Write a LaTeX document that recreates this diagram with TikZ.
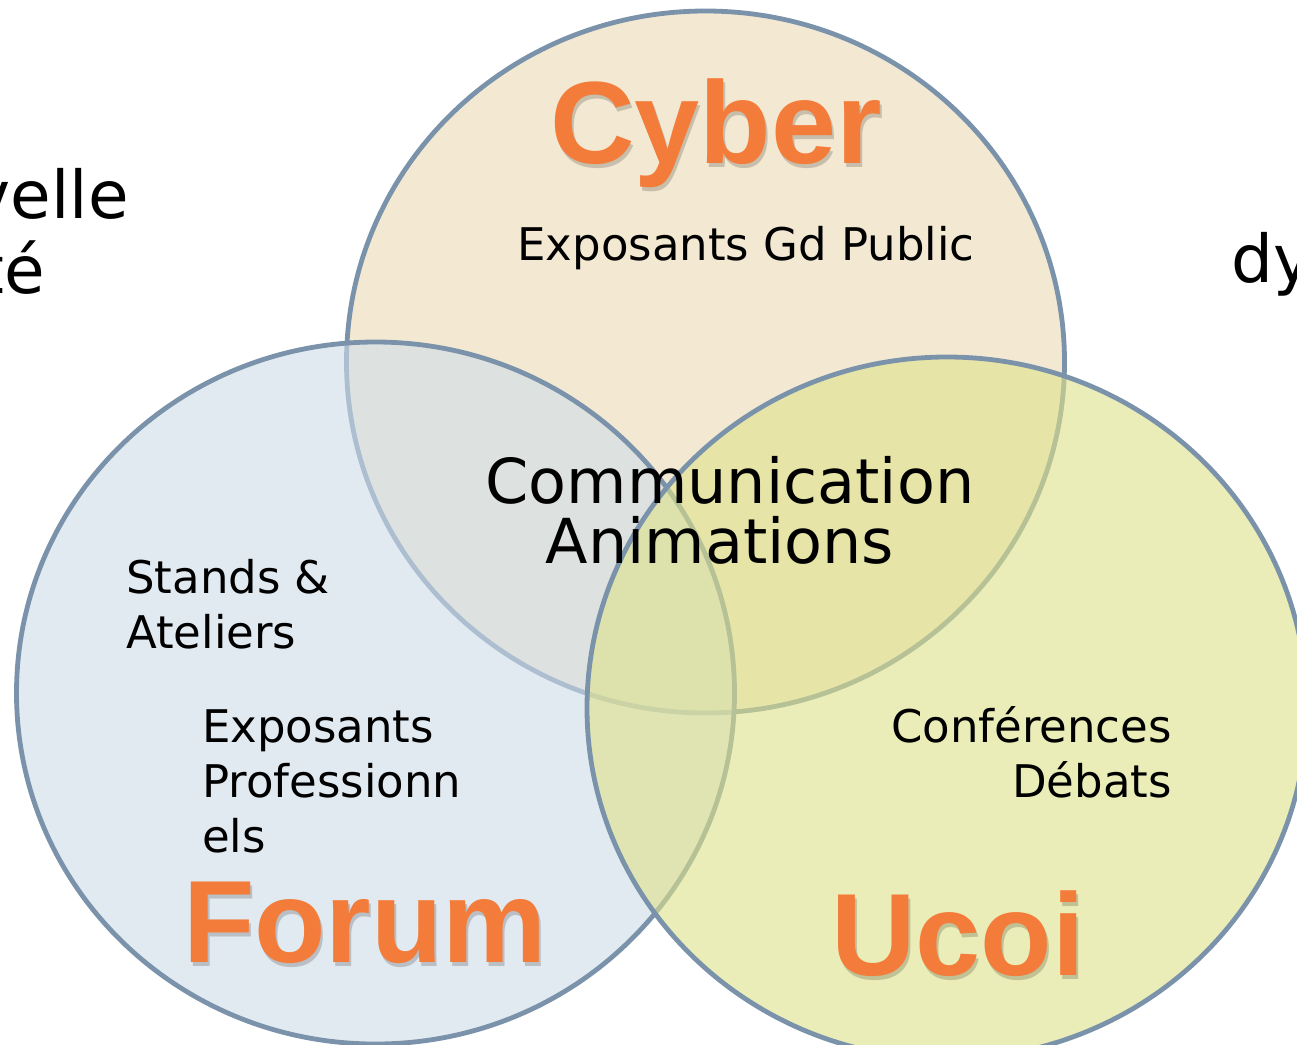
\documentclass[tikz,border=0pt]{standalone}
\usepackage{fontspec}
\setmainfont{DejaVu Sans}
\newfontfamily\titlefont{Liberation Sans}

\definecolor{edge}{RGB}{122,147,171}
\definecolor{cyberfill}{RGB}{243,233,211}
\definecolor{forumfill}{RGB}{207,220,233}
\definecolor{ucoifill}{RGB}{222,225,137}
\definecolor{titleorange}{RGB}{243,124,58}

\tikzset{
  setcircle/.style={draw=edge, line width=4.8pt},
  lbl/.style={font=\fontsize{45}{55}\selectfont, inner sep=0pt, text=black},
  bigtxt/.style={font=\fontsize{62}{62}\selectfont, inner sep=0pt, text=black, anchor=base},
  edgetxt/.style={font=\fontsize{66}{75}\selectfont, inner sep=0pt, text=black},
  titletxt/.style={font=\titlefont\bfseries\fontsize{117}{117}\selectfont, inner sep=0pt, anchor=base},
  titleshadow/.style={titletxt, text=black, text opacity=0.18},
}

\begin{document}
\begin{tikzpicture}[x=1pt,y=-1pt]
\useasboundingbox (0,0) rectangle (1297,1044);
\clip (0,0) rectangle (1297,1044);
\fill[white] (0,0) rectangle (1297,1044);

% Cyber circle
\fill[cyberfill] (705.5,362) ellipse [x radius=359, y radius=351];
\draw[setcircle] (705.5,362) ellipse [x radius=359, y radius=351];
% Forum circle
\fill[forumfill, fill opacity=0.6] (375.5,693) ellipse [x radius=359, y radius=351];
\draw[setcircle] (375.5,693) ellipse [x radius=359, y radius=351];
% Ucoi circle
\fill[ucoifill, fill opacity=0.6] (947,708) ellipse [x radius=360, y radius=351];
\draw[setcircle] (947,708) ellipse [x radius=360, y radius=351];

% edge texts (cut by the frame)
\node[edgetxt, anchor=base east] (velle) at (129,218) {velle};
\node[edgetxt, anchor=base east] (te) at (45,293) {té};
\node[edgetxt, anchor=base west] (dy) at (1231,282) {dy};

% titles with soft shadow
\node[titleshadow] (cybershadow) at (718,167) {Cyber};
\node[titletxt, text=titleorange] (cyber) at (716,163) {Cyber};

\node[titleshadow] (forumshadow) at (367,966) {Forum};
\node[titletxt, text=titleorange] (forum) at (365,962) {Forum};

\node[titleshadow] (ucoishadow) at (960,979) {Ucoi};
\node[titletxt, text=titleorange] (ucoi) at (958,975) {Ucoi};

% labels
\node[lbl, anchor=base] (expgd) at (746,260) {Exposants Gd Public};
\node[bigtxt] (comm) at (730,503) {Communication};
\node[bigtxt] (anim) at (720,563) {Animations};
\node[lbl, anchor=base west] (stands) at (126,593) {Stands \&};
\node[lbl, anchor=base west] (ateliers) at (126,648) {Ateliers};
\node[lbl, anchor=base west] (expo) at (202,742) {Exposants};
\node[lbl, anchor=base west] (prof) at (202,797) {Professionn};
\node[lbl, anchor=base west] (els) at (202,852) {els};
\node[lbl, anchor=base east] (conf) at (1172,742) {Conférences};
\node[lbl, anchor=base east] (debats) at (1172,797) {Débats};
\end{tikzpicture}
\end{document}
